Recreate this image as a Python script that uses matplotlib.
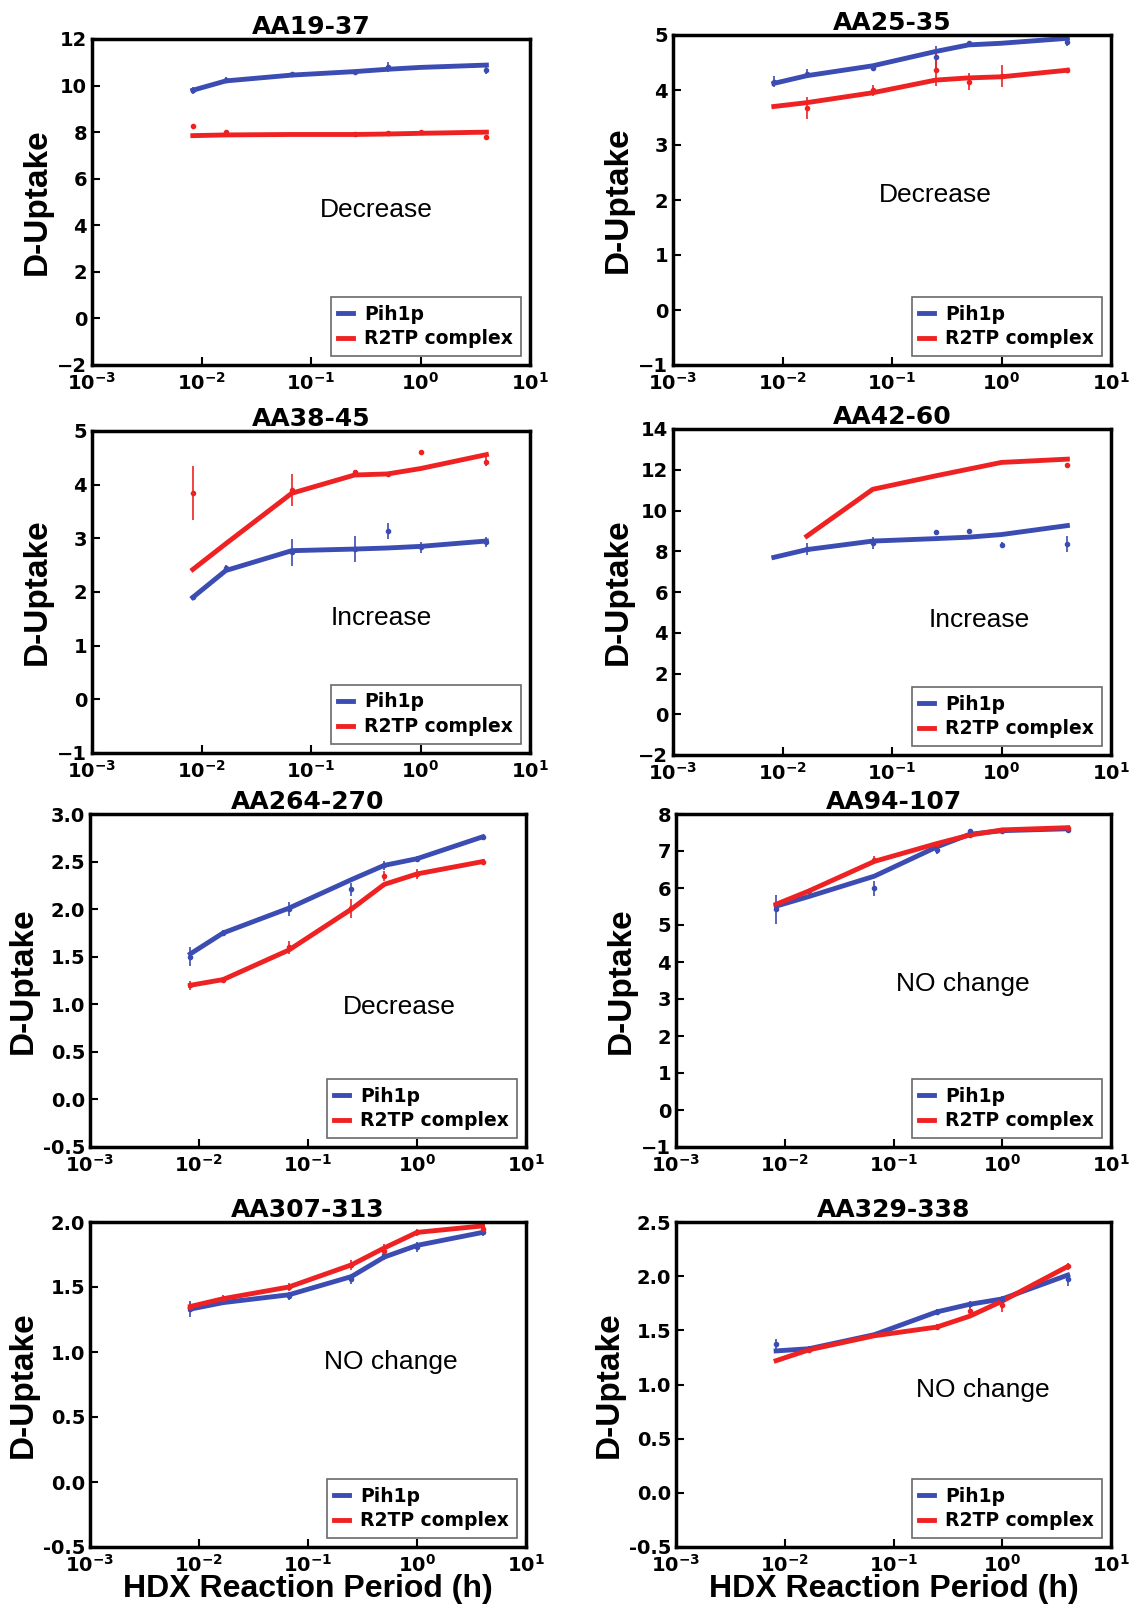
import numpy as np
import matplotlib
matplotlib.use("Agg")
import matplotlib.pyplot as plt

# HDX time points (h): 30 s, 1 min, 4 min, 15 min, 30 min, 1 h, 4 h
times = [0.00833, 0.01667, 0.0667, 0.25, 0.5, 1.0, 4.0]
nan = np.nan

titles = ["AA19-37", "AA25-35", "AA38-45", "AA42-60",
          "AA264-270", "AA94-107", "AA307-313", "AA329-338"]
notes = ["Decrease", "Decrease", "Increase", "Increase",
         "Decrease", "NO change", "NO change", "NO change"]

# fitted curves
pih_fit = [
    [9.8, 10.2, 10.45, 10.6, 10.7, 10.78, 10.88],
    [4.12, 4.26, 4.44, 4.7, 4.82, 4.85, 4.94],
    [1.9, 2.4, 2.77, 2.8, 2.82, 2.85, 2.95],
    [7.7, 8.08, 8.5, 8.62, 8.69, 8.82, 9.26],
    [1.53, 1.75, 2.01, 2.31, 2.46, 2.53, 2.76],
    [5.51, 5.77, 6.32, 7.11, 7.45, 7.55, 7.6],
    [1.33, 1.38, 1.44, 1.58, 1.73, 1.82, 1.92],
    [1.31, 1.33, 1.46, 1.67, 1.74, 1.79, 2.01],
]
r2tp_fit = [
    [7.85, 7.88, 7.9, 7.9, 7.92, 7.95, 8.0],
    [3.7, 3.77, 3.95, 4.18, 4.22, 4.24, 4.36],
    [2.42, 2.9, 3.84, 4.18, 4.2, 4.3, 4.56],
    [nan, 8.74, 11.04, 11.7, 12.03, 12.36, 12.52],
    [1.2, 1.26, 1.57, 2.0, 2.26, 2.37, 2.5],
    [5.56, 5.92, 6.72, 7.2, 7.43, 7.57, 7.63],
    [1.35, 1.41, 1.5, 1.67, 1.8, 1.92, 1.97],
    [1.22, 1.32, 1.45, 1.53, 1.63, 1.77, 2.09],
]

# measured points and errors
pih_pts = [
    [9.8, 10.25, 10.5, 10.57, 10.8, nan, 10.65],
    [4.15, 4.3, 4.4, 4.6, 4.85, nan, 4.88],
    [1.9, 2.45, 2.74, 2.8, 3.13, 2.83, 2.93],
    [nan, 8.1, 8.4, 8.93, 8.98, 8.33, 8.36],
    [1.5, 1.75, 2.0, 2.21, 2.46, 2.53, 2.76],
    [5.42, nan, 5.99, 7.02, 7.54, 7.55, 7.58],
    [1.33, nan, 1.43, 1.56, 1.75, 1.81, 1.92],
    [1.37, 1.33, nan, 1.67, 1.74, 1.79, 1.97],
]
pih_err = [
    [0.15, 0.1, 0.05, 0.1, 0.2, 0, 0.15],
    [0.1, 0.08, 0.05, 0.2, 0.05, 0, 0.08],
    [0.05, 0.05, 0.25, 0.25, 0.15, 0.1, 0.1],
    [0, 0.3, 0.3, 0.1, 0.1, 0.1, 0.4],
    [0.1, 0.03, 0.07, 0.07, 0.05, 0.03, 0.02],
    [0.4, 0, 0.2, 0.1, 0.05, 0.05, 0.05],
    [0.06, 0, 0.03, 0.04, 0.04, 0.04, 0.03],
    [0.05, 0.03, 0, 0.03, 0.03, 0.03, 0.06],
]
r2tp_pts = [
    [8.27, 8.0, nan, 7.9, 7.95, 8.0, 7.8],
    [nan, 3.67, 4.0, 4.37, 4.15, 4.25, 4.36],
    [3.84, nan, 3.9, 4.23, 4.2, 4.6, 4.43],
    [nan, nan, nan, nan, nan, nan, 12.24],
    [1.2, 1.26, 1.6, 2.01, 2.35, 2.37, 2.5],
    [nan, 5.92, 6.77, 7.2, 7.43, 7.57, 7.63],
    [1.35, 1.41, 1.5, 1.67, 1.78, 1.92, 1.95],
    [nan, 1.32, nan, 1.53, 1.68, 1.73, 2.09],
]
r2tp_err = [
    [0.05, 0.05, 0, 0.05, 0.1, 0.05, 0.05],
    [0, 0.2, 0.1, 0.3, 0.15, 0.2, 0.03],
    [0.5, 0, 0.3, 0.05, 0.03, 0.05, 0.08],
    [0, 0, 0, 0, 0, 0, 0.05],
    [0.05, 0.03, 0.07, 0.1, 0.05, 0.05, 0.03],
    [0, 0.05, 0.1, 0.05, 0.05, 0.05, 0.05],
    [0.03, 0.03, 0.03, 0.04, 0.05, 0.03, 0.02],
    [0, 0.03, 0, 0.03, 0.04, 0.06, 0.03],
]

ylims = [(-2, 12), (-1, 5), (-1, 5), (-2, 14), (-0.5, 3.0), (-1, 8), (-0.5, 2.0), (-0.5, 2.5)]
ysteps = [2, 1, 1, 2, 0.5, 1, 0.5, 0.5]
note_pos = [(0.65, 0.475), (0.60, 0.515), (0.66, 0.42), (0.70, 0.414),
            (0.71, 0.42), (0.66, 0.49), (0.69, 0.57), (0.705, 0.483)]

# axes boxes in pixels: left, top, right, bottom
boxes = [(92, 39, 530, 365), (673, 35, 1111, 365),
         (92, 431, 530, 753), (673, 429, 1111, 755),
         (90, 814, 526, 1147), (676, 814, 1111, 1147),
         (90, 1222, 526, 1547), (676, 1222, 1111, 1547)]

W, H = 1133, 1607
blue = '#3b4cb2'
red = '#ee2222'

fig = plt.figure(figsize=(W / 100, H / 100), dpi=100)

for i in range(8):
    l, t, r, b = boxes[i]
    ax = fig.add_axes([l / W, 1 - b / H, (r - l) / W, (b - t) / H])
    ax.set_xscale('log')
    ax.errorbar(times, pih_pts[i], yerr=pih_err[i], fmt='o', color=blue,
                markersize=3, elinewidth=1.2, capsize=0)
    ax.errorbar(times, r2tp_pts[i], yerr=r2tp_err[i], fmt='o', color=red,
                markersize=3, elinewidth=1.2, capsize=0)
    ax.plot(times, pih_fit[i], color=blue, lw=3.5, label='Pih1p')
    ax.plot(times, r2tp_fit[i], color=red, lw=3.5, label='R2TP complex')
    ax.set_xlim(1e-3, 1e1)
    lo, hi = ylims[i]
    ax.set_ylim(lo, hi)
    yt = np.arange(lo, hi + ysteps[i] / 2, ysteps[i])
    ax.set_yticks(yt)
    if ysteps[i] < 1:
        ax.set_yticklabels(['%.1f' % v for v in yt])
    ax.set_xticks([1e-3, 1e-2, 1e-1, 1e0, 1e1])
    ax.minorticks_off()
    ax.tick_params(direction='in', length=6, width=1.5, labelsize=14)
    ax.tick_params(axis='x', pad=5)
    for lab in ax.get_xticklabels() + ax.get_yticklabels():
        lab.set_fontweight('bold')
    for sp in ax.spines.values():
        sp.set_linewidth(2.5)
    ax.set_title(titles[i], fontsize=18, fontweight='bold', pad=1)
    ax.set_ylabel('D-Uptake', fontsize=24, fontweight='bold',
                  family='Liberation Sans', labelpad=3)
    if i >= 6:
        ax.set_xlabel('HDX Reaction Period (h)', fontsize=23, fontweight='bold',
                      family='Liberation Sans', labelpad=-1)
    ax.text(note_pos[i][0], note_pos[i][1], notes[i], transform=ax.transAxes,
            ha='center', va='center', fontsize=19, family='Liberation Sans')
    leg = ax.legend(loc='lower right', prop={'weight': 'bold', 'size': 13.5},
                    handlelength=0.8, handletextpad=0.6, fancybox=False,
                    borderaxespad=0.5, labelspacing=0.3)
    leg.get_frame().set_edgecolor('#444444')
    leg.get_frame().set_linewidth(1.2)

fig.savefig('out.png', dpi=100)
